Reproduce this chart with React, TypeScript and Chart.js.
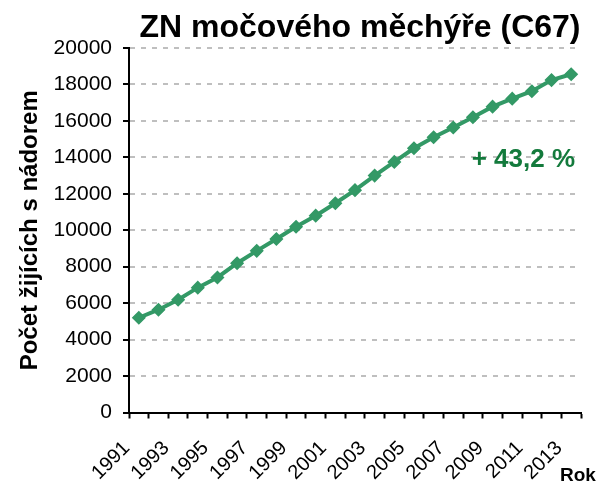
import React, { useEffect, useRef } from 'react';
import { Chart, registerables } from 'chart.js';

Chart.register(...registerables);

const years = ['1991', '1992', '1993', '1994', '1995', '1996', '1997', '1998', '1999', '2000', '2001', '2002', '2003', '2004', '2005', '2006', '2007', '2008', '2009', '2010', '2011', '2012', '2013'];
const prevalence = [5200, 5640, 6190, 6850, 7410, 8190, 8870, 9520, 10190, 10800, 11480, 12200, 13000, 13750, 14500, 15100, 15640, 16200, 16780, 17220, 17630, 18240, 18560];
const yMin = 0;
const yMax = 20000;
const yStep = 2000;
const titleText = 'ZN močového měchýře (C67)';
const yTitleText = 'Počet žijících s nádorem';
const xTitleText = 'Rok';
const changeText = '+ 43,2 %';
const changeAnchorValue = 14000;

const FONT = '"Liberation Sans", Arial, Helvetica, sans-serif';
const GREEN = '#339966';

const textPlugin = {
  id: 'customTexts',
  afterDraw(chart: any) {
    const { ctx, chartArea, scales } = chart;
    ctx.save();
    ctx.fillStyle = '#000';
    ctx.textBaseline = 'alphabetic';
    ctx.textAlign = 'center';
    ctx.font = `bold 32px ${FONT}`;
    ctx.fillText(titleText, (chartArea.left + chartArea.right) / 2 + 5, 37);

    ctx.textAlign = 'left';
    ctx.font = `bold 19px ${FONT}`;
    ctx.fillText(xTitleText, 560, 481);

    ctx.textAlign = 'right';
    ctx.fillStyle = '#137a3c';
    ctx.font = `bold 26px ${FONT}`;
    ctx.fillText(changeText, chartArea.right - 6, scales.y.getPixelForValue(changeAnchorValue) + 10);
    ctx.restore();
  },
};

export default function App() {
  const ref = useRef<HTMLCanvasElement | null>(null);

  useEffect(() => {
    if (!ref.current) return;
    const chart = new Chart(ref.current, {
      type: 'line',
      data: {
        labels: years,
        datasets: [
          {
            data: prevalence,
            borderColor: GREEN,
            backgroundColor: GREEN,
            borderWidth: 4,
            pointStyle: 'rectRot',
            pointRadius: 6,
            pointBorderWidth: 1.5,
            pointBackgroundColor: GREEN,
            pointBorderColor: GREEN,
            tension: 0,
            fill: false,
          },
        ],
      },
      options: {
        responsive: false,
        animation: false,
        layout: { padding: { top: 48, left: 12, right: 21, bottom: 0 } },
        plugins: {
          legend: { display: false },
          title: { display: false },
          tooltip: { enabled: false },
        },
        scales: {
          x: {
            type: 'category',
            offset: true,
            afterFit: (s: any) => {
              s.height = 69.5;
              s.paddingLeft = 0;
              s.paddingRight = 0;
            },
            grid: {
              display: true,
              drawOnChartArea: false,
              drawTicks: true,
              offset: true,
              tickLength: 6,
              tickColor: '#000',
              tickWidth: 2,
            },
            border: { display: true, color: '#000', width: 2 },
            ticks: {
              autoSkip: false,
              minRotation: 45,
              maxRotation: 45,
              padding: 18,
              labelOffset: -12,
              color: '#000',
              font: { family: FONT, size: 20 },
              callback: (_v: any, i: number) => (i % 2 === 0 ? years[i] : ''),
            },
          },
          y: {
            min: yMin,
            max: yMax,
            afterFit: (s: any) => {
              s.width = 117;
            },
            grid: {
              color: (c: any) => (c.tick && c.tick.value === 0 ? 'rgba(0,0,0,0)' : '#bfbfbf'),
              lineWidth: 2,
              tickLength: 6,
              tickColor: '#000',
              tickWidth: 2,
              tickBorderDash: [],
            },
            border: { display: true, color: '#000', width: 2, dash: [5, 6] },
            ticks: {
              stepSize: yStep,
              padding: 11,
              color: '#000',
              font: { family: FONT, size: 21 },
              callback: (v: any) => String(v),
            },
            title: {
              display: true,
              text: yTitleText,
              color: '#000',
              font: { family: FONT, size: 24, weight: 'bold' },
              padding: { top: 4, bottom: 8 },
            },
          },
        },
      },
      plugins: [textPlugin],
    });
    return () => chart.destroy();
  }, []);

  return (
    <div style={{ position: 'fixed', left: 0, top: 0, width: 602, height: 482, background: '#fff' }}>
      <canvas ref={ref} width={602} height={482} />
    </div>
  );
}
